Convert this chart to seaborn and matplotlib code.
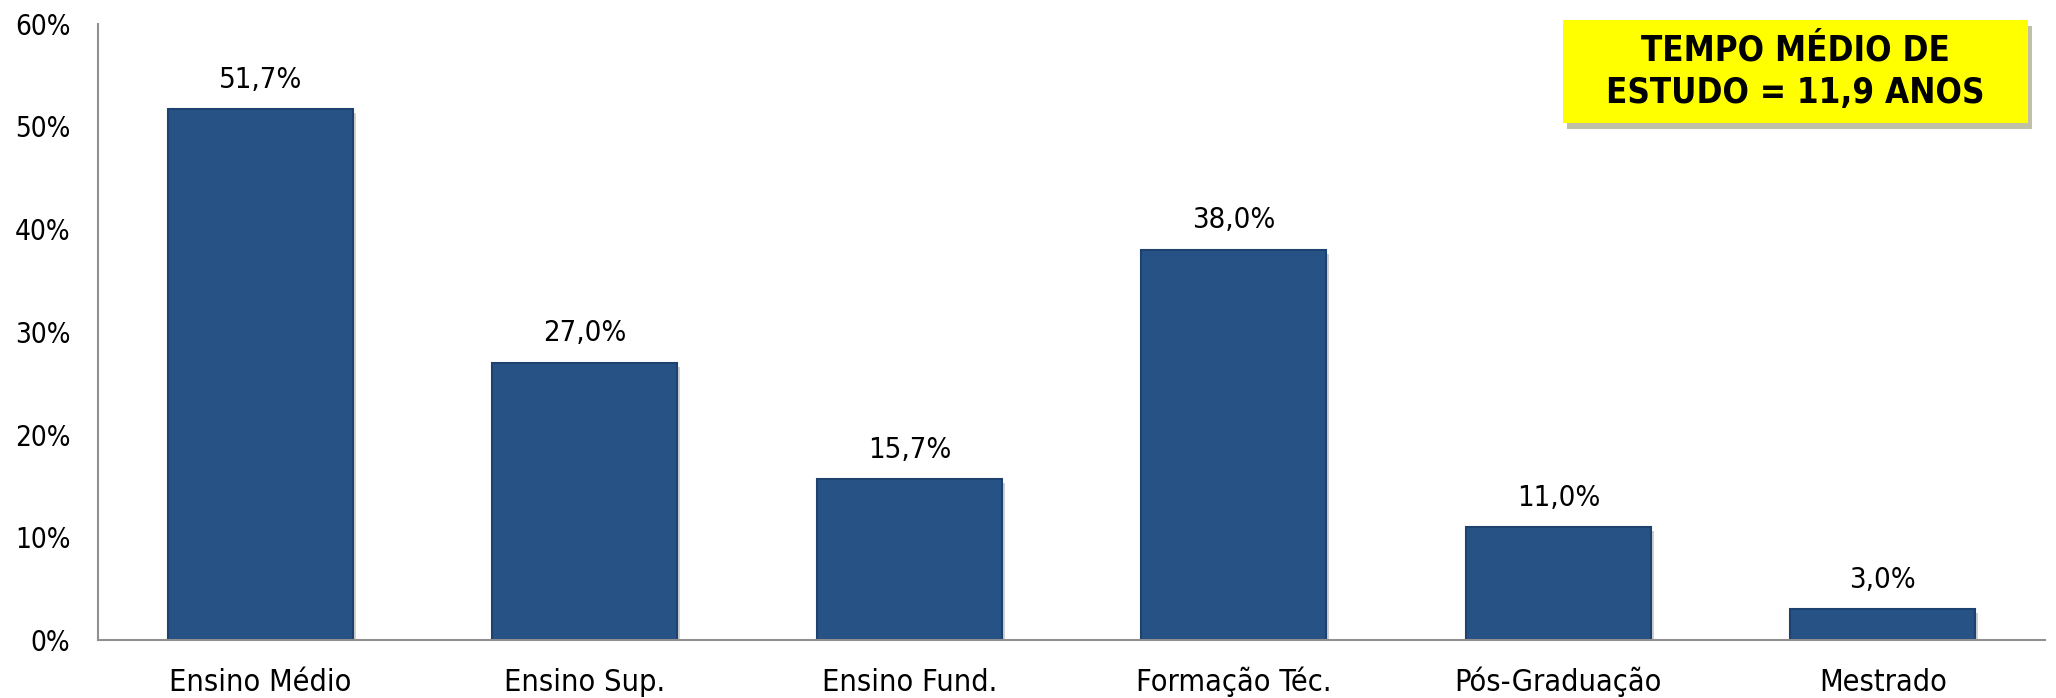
import pandas as pd
import matplotlib.pyplot as plt
import matplotlib.patheffects as pe
from matplotlib.patches import Rectangle
import seaborn as sns

# Escolaridade - dados
categorias = ['Ensino Médio', 'Ensino Sup.', 'Ensino Fund.', 'Formação Téc.', 'Pós-Graduação', 'Mestrado']
valores = [51.7, 27.0, 15.7, 38.0, 11.0, 3.0]
rotulos = ['51,7%', '27,0%', '15,7%', '38,0%', '11,0%', '3,0%']
y_ticks = [0, 10, 20, 30, 40, 50, 60]
y_labels = ['0%', '10%', '20%', '30%', '40%', '50%', '60%']
destaque = 'TEMPO MÉDIO DE\nESTUDO = 11,9 ANOS'

data = pd.DataFrame({'cat': categorias, 'val': valores})

sns.set_style('white')
plt.rcParams['font.family'] = ['DejaVu Sans']
plt.rcParams['font.stretch'] = 'condensed'
plt.rcParams['xtick.color'] = 'black'
plt.rcParams['ytick.color'] = 'black'
plt.rcParams['text.color'] = 'black'

fig = plt.figure(figsize=(20.56, 6.98), dpi=100)
ax = fig.add_axes([0.0477, 0.083, 0.947, 0.883])

sns.barplot(data=data, x='cat', y='val', color='#265285', width=0.57,
            saturation=1, edgecolor='#1d4270', linewidth=1.5, ax=ax)
for bar in ax.patches:
    bar.set_path_effects([pe.SimplePatchShadow(offset=(2, -3), shadow_rgbFace='#777777', alpha=0.35),
                          pe.Normal()])

for bar, txt in zip(ax.patches, rotulos):
    ax.annotate(txt, (bar.get_x() + bar.get_width() / 2, bar.get_height()),
                xytext=(0, 11), textcoords='offset points', ha='center', va='bottom',
                fontsize=21, color='black')

ax.set_xlim(-0.5, 5.5)
ax.set_ylim(0, 60)
ax.set_yticks(y_ticks)
ax.set_yticklabels(y_labels, fontsize=20)
ax.tick_params(axis='x', labelsize=22, length=0, pad=37, labelcolor='black')
ax.tick_params(axis='y', length=0, pad=20, labelcolor='black')
for lab in ax.get_xticklabels():
    lab.set_verticalalignment('baseline')
ax.set_xlabel('')
ax.set_ylabel('')
for s in ['top', 'right']:
    ax.spines[s].set_visible(False)
for s in ['left', 'bottom']:
    ax.spines[s].set_color('#909090')
    ax.spines[s].set_linewidth(1.5)

# caixa amarela de destaque
box = Rectangle((1563 / 2056, 1 - 123 / 698), 465 / 2056, 103 / 698, transform=fig.transFigure,
                facecolor='#ffff00', edgecolor='none',
                path_effects=[pe.SimplePatchShadow(offset=(3, -4), alpha=0.35), pe.Normal()])
fig.add_artist(box)
fig.text(1795.5 / 2056, 1 - 71.5 / 698, destaque, ha='center', va='center', fontsize=25,
         fontweight='bold', linespacing=1.3, color='black')

fig.savefig('out.png', dpi=100)
